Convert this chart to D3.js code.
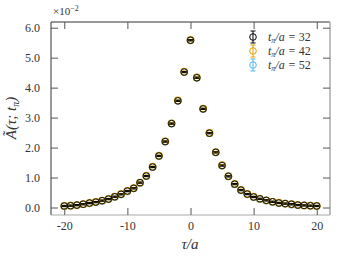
<!DOCTYPE html>
<html>
<head>
<meta charset="utf-8">
<script src="https://cdn.jsdelivr.net/npm/d3@7"></script>
<style>
  body { margin: 0; background: #fff; }
  text { font-family: "Liberation Serif", "DejaVu Serif", serif; }
</style>
</head>
<body>
<div id="chart"></div>
<script>
// tau/a values and A(tau; t_pi) in units of 1e-2
const taus = d3.range(-20, 21);
const series32 = [0.05, 0.06, 0.08, 0.11, 0.15, 0.18, 0.23, 0.28, 0.36, 0.44, 0.55, 0.64, 0.83, 1.05, 1.35, 1.72, 2.20, 2.80, 3.56, 4.52, 5.58,
                  4.33, 3.29, 2.48, 1.84, 1.40, 1.04, 0.78, 0.58, 0.45, 0.35, 0.29, 0.24, 0.19, 0.15, 0.13, 0.11, 0.08, 0.07, 0.06, 0.05];
const series42 = [0.05, 0.06, 0.08, 0.11, 0.15, 0.19, 0.23, 0.29, 0.36, 0.45, 0.55, 0.65, 0.83, 1.06, 1.36, 1.73, 2.21, 2.81, 3.57, 4.53, 5.59,
                  4.34, 3.30, 2.49, 1.85, 1.41, 1.05, 0.79, 0.59, 0.45, 0.36, 0.29, 0.24, 0.19, 0.16, 0.13, 0.11, 0.09, 0.07, 0.06, 0.05];
const series52 = [0.05, 0.06, 0.08, 0.11, 0.14, 0.18, 0.22, 0.28, 0.35, 0.44, 0.54, 0.64, 0.82, 1.05, 1.35, 1.72, 2.20, 2.80, 3.56, 4.52, 5.58,
                  4.33, 3.29, 2.48, 1.84, 1.40, 1.04, 0.78, 0.58, 0.44, 0.35, 0.28, 0.23, 0.19, 0.15, 0.13, 0.10, 0.08, 0.07, 0.06, 0.05];
const errs = 0.02;
const seriesNames = ['32', '42', '52'];
const seriesColors = ['#000000', '#E69F00', '#56B4E9'];
const xTicks = [-20, -10, 0, 10, 20];
const yTicks = [0, 1, 2, 3, 4, 5, 6];

const width = 340, height = 260;
const svg = d3.select('#chart').append('svg')
    .attr('width', width)
    .attr('height', height);

const x = d3.scaleLinear().domain([-22.1, 22.1]).range([51, 330]);
const y = d3.scaleLinear().domain([-0.25, 6.19]).range([215, 22]);

// spines
svg.append('line').attr('x1', 51).attr('x2', 330).attr('y1', 22).attr('y2', 22)
    .attr('stroke', '#333').attr('stroke-width', 1);
svg.append('line').attr('x1', 51).attr('x2', 51).attr('y1', 22).attr('y2', 215)
    .attr('stroke', '#333').attr('stroke-width', 1);
svg.append('line').attr('x1', 51).attr('x2', 330).attr('y1', 215).attr('y2', 215)
    .attr('stroke', '#aaa').attr('stroke-width', 1.2);
svg.append('line').attr('x1', 330).attr('x2', 330).attr('y1', 22).attr('y2', 215)
    .attr('stroke', '#aaa').attr('stroke-width', 1.5);

// axes with inward ticks
const fmtY = d => d.toFixed(1);
const fmtX = d => String(d);
const axisStyle = g => {
    g.select('.domain').remove();
    g.selectAll('.tick line').attr('stroke', '#555');
    g.selectAll('.tick text').attr('font-size', 12).attr('fill', '#333')
        .style('font-family', '"Liberation Serif", serif');
};

svg.append('g').attr('transform', 'translate(0,215)')
    .call(d3.axisBottom(x).tickValues(xTicks).tickSizeInner(-7).tickSizeOuter(0).tickPadding(6).tickFormat(fmtX))
    .call(axisStyle);
svg.append('g').attr('transform', 'translate(0,22)')
    .call(d3.axisTop(x).tickValues(xTicks).tickSizeInner(-7).tickSizeOuter(0).tickFormat(''))
    .call(axisStyle);
svg.append('g').attr('transform', 'translate(51,0)')
    .call(d3.axisLeft(y).tickValues(yTicks).tickSizeInner(-7).tickSizeOuter(0).tickPadding(11).tickFormat(fmtY))
    .call(axisStyle);
svg.append('g').attr('transform', 'translate(330,0)')
    .call(d3.axisRight(y).tickValues(yTicks).tickSizeInner(-7).tickSizeOuter(0).tickFormat(''))
    .call(axisStyle);

// multiplier
const mult = svg.append('text').attr('x', 53).attr('y', 15).attr('font-size', 11).attr('fill', '#333');
mult.append('tspan').text('×10');
mult.append('tspan').attr('dy', -4).attr('font-size', 8).text('−2');

// axis labels
svg.append('text').attr('x', 190).attr('y', 249).attr('text-anchor', 'middle')
    .attr('font-size', 15).attr('font-style', 'italic').attr('fill', '#333')
    .text('τ/a');
const yl = svg.append('text').attr('transform', 'translate(16,118) rotate(-90)')
    .attr('text-anchor', 'middle').attr('font-size', 15).attr('font-style', 'italic').attr('fill', '#333');
yl.append('tspan').text('Ã(τ; t');
yl.append('tspan').attr('font-size', 10).attr('dy', 3).text('π');
yl.append('tspan').attr('dy', -3).text(')');

// data: draw blue, orange, then black on top
const allSeries = [series32, series42, series52];
const r = 3.3, cap = 2.5;
[2, 1, 0].forEach(si => {
    const vals = allSeries[si];
    const g = svg.append('g').attr('stroke', seriesColors[si]).attr('fill', 'none');
    vals.forEach((v, i) => {
        const cx = x(taus[i]);
        const y0 = y(v - errs), y1 = y(v + errs);
        g.append('line').attr('x1', cx).attr('x2', cx).attr('y1', y0).attr('y2', y1).attr('stroke-width', 1);
        g.append('line').attr('x1', cx - cap).attr('x2', cx + cap).attr('y1', y0).attr('y2', y0).attr('stroke-width', 1);
        g.append('line').attr('x1', cx - cap).attr('x2', cx + cap).attr('y1', y1).attr('y2', y1).attr('stroke-width', 1);
        g.append('circle').attr('cx', cx).attr('cy', y(v)).attr('r', r)
            .attr('stroke-width', si === 0 ? 0.9 : 1.2);
    });
});

// legend
const legY = [37, 51, 65];
seriesNames.forEach((name, i) => {
    const lg = svg.append('g').attr('transform', `translate(253,${legY[i]})`);
    lg.append('line').attr('x1', 0).attr('x2', 0).attr('y1', -6).attr('y2', 6).attr('stroke', seriesColors[i]);
    lg.append('line').attr('x1', -2.5).attr('x2', 2.5).attr('y1', -6).attr('y2', -6).attr('stroke', seriesColors[i]);
    lg.append('line').attr('x1', -2.5).attr('x2', 2.5).attr('y1', 6).attr('y2', 6).attr('stroke', seriesColors[i]);
    lg.append('circle').attr('r', 3.3).attr('fill', 'none').attr('stroke', seriesColors[i]);
    const t = lg.append('text').attr('x', 15).attr('y', 4).attr('font-size', 12)
        .attr('font-style', 'italic').attr('fill', '#333');
    t.append('tspan').text('t');
    t.append('tspan').attr('font-size', 8).attr('dy', 2).text('π');
    t.append('tspan').attr('dy', -2).text('/a = ');
    t.append('tspan').attr('font-style', 'normal').text(name);
});
</script>
</body>
</html>
